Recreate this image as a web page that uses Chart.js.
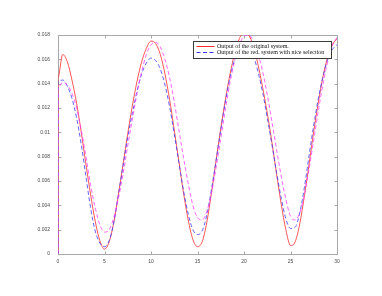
<!DOCTYPE html>
<html>
<head>
<meta charset="utf-8">
<script src="https://cdn.jsdelivr.net/npm/chart.js@4/dist/chart.umd.min.js"></script>
<style>
html,body{margin:0;padding:0;background:#fff;}
#wrap{width:382px;height:296px;position:relative;}
</style>
</head>
<body>
<div id="wrap"><canvas id="c"></canvas></div>
<script>
// ---- data ----
const tValues = [0,0.5,1,1.5,2,2.5,3,3.5,4,4.5,5,5.5,6,6.5,7,7.5,8,8.5,9,9.5,10,10.5,11,11.5,12,12.5,13,13.5,14,14.5,15,15.5,16,16.5,17,17.5,18,18.5,19,19.5,20,20.5,21,21.5,22,22.5,23,23.5,24,24.5,25,25.5,26,26.5,27,27.5,28,28.5,29,29.5,30];

// every series starts from zero at t = 0 and jumps up immediately
const startValues = [0, 0, 0];

const originalOutput = [0.0145,0.0164,0.0158,0.0143,0.0124,0.0100,0.0074,0.0049,0.0027,0.0011,0.0004,0.0010,0.0026,0.0049,0.0074,0.0099,0.0122,0.0142,0.0158,0.0169,0.0175,0.0173,0.0164,0.0148,0.0127,0.0102,0.0076,0.0050,0.0028,0.0012,0.0006,0.0010,0.0026,0.0050,0.0077,0.0103,0.0127,0.0148,0.0165,0.0177,0.0182,0.0180,0.0171,0.0156,0.0137,0.0116,0.0092,0.0066,0.0041,0.0020,0.0007,0.0010,0.0025,0.0048,0.0074,0.0101,0.0125,0.0146,0.0162,0.0172,0.0177];

const reducedOutput = [0.0142,0.0143,0.0138,0.0128,0.0112,0.0090,0.0064,0.0038,0.0019,0.0009,0.0006,0.0011,0.0026,0.0049,0.0073,0.0096,0.0116,0.0134,0.0148,0.0157,0.0161,0.0159,0.0152,0.0139,0.0121,0.0099,0.0075,0.0052,0.0033,0.0020,0.0016,0.0019,0.0032,0.0053,0.0077,0.0102,0.0125,0.0145,0.0160,0.0169,0.0172,0.0170,0.0163,0.0150,0.0133,0.0112,0.0090,0.0067,0.0046,0.0029,0.0021,0.0022,0.0034,0.0055,0.0081,0.0106,0.0128,0.0146,0.0160,0.0168,0.0172];

const thirdOutput = [0.0137,0.0141,0.0139,0.0132,0.0120,0.0102,0.0080,0.0057,0.0038,0.0024,0.0018,0.0020,0.0030,0.0046,0.0066,0.0089,0.0111,0.0132,0.0150,0.0164,0.0172,0.0174,0.0170,0.0160,0.0145,0.0125,0.0102,0.0079,0.0058,0.0040,0.0030,0.0028,0.0035,0.0050,0.0071,0.0095,0.0119,0.0141,0.0159,0.0172,0.0179,0.0180,0.0175,0.0165,0.0150,0.0131,0.0109,0.0086,0.0064,0.0045,0.0031,0.0028,0.0034,0.0049,0.0070,0.0094,0.0118,0.0140,0.0158,0.0171,0.0178];

const seriesLabels = ['Output of the original system.', 'Output of the red. system with nice selection', ''];

const xTicks = [0,5,10,15,20,25,30];
const xTickLabels = ['0','5','10','15','20','25','30'];
const yTicks = [0,0.002,0.004,0.006,0.008,0.01,0.012,0.014,0.016,0.018];
const yTickLabels = ['0','0.002','0.004','0.006','0.008','0.01','0.012','0.014','0.016','0.018'];

// ---- build datasets ----
const pts = (arr, start) => [{x: tValues[0], y: start}].concat(tValues.map((t, i) => ({x: t, y: arr[i]})));

const boxPlugin = {
  id: 'boxTicks',
  beforeDatasetsDraw(chart) {
    const {ctx, chartArea: a, scales} = chart;
    const L = Math.round(a.left) + 0.5, R = Math.round(a.right) + 0.5;
    const T = Math.round(a.top) + 0.5, B = Math.round(a.bottom) + 0.5;
    ctx.save();
    ctx.strokeStyle = '#a8a8a8';
    ctx.lineWidth = 1;
    ctx.setLineDash([]);
    ctx.beginPath();
    ctx.rect(L, T, R - L, B - T);
    const tl = 3;
    xTicks.forEach(v => {
      const px = Math.round(scales.x.getPixelForValue(v)) + 0.5;
      ctx.moveTo(px, B); ctx.lineTo(px, B - tl);
      ctx.moveTo(px, T); ctx.lineTo(px, T + tl);
    });
    yTicks.forEach(v => {
      const py = Math.round(scales.y.getPixelForValue(v)) + 0.5;
      ctx.moveTo(L, py); ctx.lineTo(L + tl, py);
      ctx.moveTo(R, py); ctx.lineTo(R - tl, py);
    });
    ctx.stroke();
    ctx.restore();
  },
  afterDatasetsDraw(chart) {
    const {ctx, chartArea: a} = chart;
    ctx.save();
    // legend box (top right, inside the axes)
    const lx = Math.round(a.right) - 144 + 0.5, ly = Math.round(a.top) + 6 + 0.5;
    const lw = 138, lh = 17;
    ctx.fillStyle = '#ffffff';
    ctx.fillRect(lx, ly, lw, lh);
    ctx.strokeStyle = '#3a3a3a';
    ctx.lineWidth = 1;
    ctx.strokeRect(lx, ly, lw, lh);
    ctx.font = '6px "Liberation Serif", "DejaVu Serif", serif';
    ctx.textBaseline = 'middle';
    ctx.textAlign = 'left';
    [0, 1].forEach(k => {
      const ds = chart.data.datasets[k];
      const yy = ly + 4.5 + k * 6;
      ctx.strokeStyle = ds.borderColor;
      ctx.lineWidth = 1;
      ctx.setLineDash(ds.borderDash || []);
      ctx.beginPath();
      ctx.moveTo(lx + 3, Math.round(yy) + 0.5);
      ctx.lineTo(lx + 21, Math.round(yy) + 0.5);
      ctx.stroke();
      ctx.setLineDash([]);
      ctx.fillStyle = '#111';
      ctx.fillText(ds.label, lx + 23.5, yy + 0.3);
    });
    ctx.restore();
  }
};

new Chart(document.getElementById('c'), {
  type: 'line',
  data: {
    datasets: [
      {label: seriesLabels[0], data: pts(originalOutput, startValues[0]), borderColor: '#ff2a2a', borderWidth: 0.8, pointRadius: 0, cubicInterpolationMode: 'monotone', fill: false, order: 3},
      {label: seriesLabels[1], data: pts(reducedOutput, startValues[1]), borderColor: '#3a3aff', borderWidth: 0.8, borderDash: [4, 2.5], pointRadius: 0, cubicInterpolationMode: 'monotone', fill: false, order: 2},
      {label: seriesLabels[2], data: pts(thirdOutput, startValues[2]), borderColor: '#ff3cff', borderWidth: 0.8, borderDash: [4, 2.5], pointRadius: 0, cubicInterpolationMode: 'monotone', fill: false, order: 1}
    ]
  },
  options: {
    responsive: true,
    maintainAspectRatio: false,
    animation: false,
    events: [],
    layout: {padding: {left: 0, top: 35, right: 45, bottom: 0}},
    plugins: {legend: {display: false}, tooltip: {enabled: false}},
    scales: {
      x: {
        type: 'linear', min: 0, max: 30,
        grid: {display: false, drawTicks: false, tickLength: 0}, border: {display: false},
        afterBuildTicks: s => { s.ticks = xTicks.map(v => ({value: v})); },
        afterFit: s => { s.height = 42; },
        ticks: {padding: 5, color: '#4a4a4a', font: {family: '"Liberation Sans", Arial, sans-serif', size: 5},
          maxRotation: 0, autoSkip: false, callback: (v, i) => xTickLabels[i]}
      },
      y: {
        type: 'linear', min: 0, max: 0.018,
        grid: {display: false, drawTicks: false, tickLength: 0}, border: {display: false},
        afterBuildTicks: s => { s.ticks = yTicks.map(v => ({value: v})); },
        afterFit: s => { s.width = 58; },
        ticks: {padding: 8, color: '#4a4a4a', font: {family: '"Liberation Sans", Arial, sans-serif', size: 5},
          autoSkip: false, callback: (v, i) => yTickLabels[i]}
      }
    }
  },
  plugins: [boxPlugin]
});
</script>
</body>
</html>
